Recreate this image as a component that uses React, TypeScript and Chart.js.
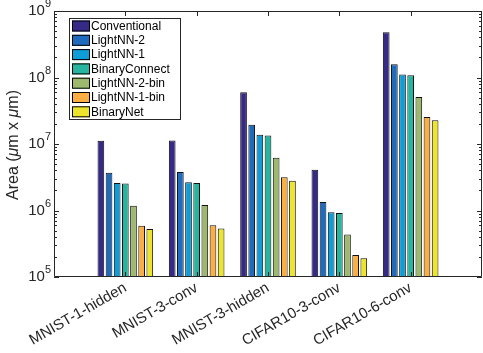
import React, { useEffect, useRef } from "react";
import { Chart, registerables } from "chart.js";

Chart.register(...registerables);

const categories = ["MNIST-1-hidden", "MNIST-3-conv", "MNIST-3-hidden", "CIFAR10-3-conv", "CIFAR10-6-conv"];
const seriesNames = ["Conventional", "LightNN-2", "LightNN-1", "BinaryConnect", "LightNN-2-bin", "LightNN-1-bin", "BinaryNet"];
const conventional = [1.12e7, 1.13e7, 6.0e7, 4.1e6, 4.8e8];
const lightNN2 = [3.7e6, 3.8e6, 1.95e7, 1.34e6, 1.58e8];
const lightNN1 = [2.6e6, 2.65e6, 1.38e7, 9.4e5, 1.11e8];
const binaryConnect = [2.55e6, 2.6e6, 1.34e7, 9.2e5, 1.08e8];
const lightNN2bin = [1.18e6, 1.21e6, 6.2e6, 4.35e5, 5.1e7];
const lightNN1bin = [5.9e5, 6.0e5, 3.15e6, 2.15e5, 2.55e7];
const binaryNet = [5.25e5, 5.35e5, 2.8e6, 1.92e5, 2.27e7];
const yTickExponents = [5, 6, 7, 8, 9];

const seriesValues = [conventional, lightNN2, lightNN1, binaryConnect, lightNN2bin, lightNN1bin, binaryNet];
const colors = ["#352a87", "#1f6cbe", "#0e9dd6", "#26b59e", "#9db96d", "#fbae42", "#ece52c"];

const FONT = "'Liberation Sans', Arial, Helvetica, sans-serif";

const customPlugin = {
  id: "matlabDecor",
  afterDraw(chart: any) {
    const ctx: CanvasRenderingContext2D = chart.ctx;
    const { left, right, top, bottom } = chart.chartArea;
    const y = chart.scales.y;
    const x = chart.scales.x;
    ctx.save();
    // box
    ctx.strokeStyle = "#262626";
    ctx.lineWidth = 1;
    ctx.beginPath();
    ctx.rect(left + 0.5, top + 0.5, right - left - 1, bottom - top - 1);
    ctx.stroke();
    // y ticks major/minor
    ctx.beginPath();
    for (let e = 5; e <= 9; e++) {
      for (let m = 1; m <= 9; m++) {
        const v = m * Math.pow(10, e);
        if (v > 1e9) break;
        const py = Math.round(y.getPixelForValue(v)) + 0.5;
        const len = m === 1 ? 5 : 3;
        ctx.moveTo(left, py);
        ctx.lineTo(left + len, py);
        ctx.moveTo(right, py);
        ctx.lineTo(right - len, py);
      }
    }
    // x ticks
    for (let i = 1; i <= categories.length; i++) {
      const px = Math.round(x.getPixelForValue(i)) + 0.5;
      ctx.moveTo(px, top);
      ctx.lineTo(px, top + 5);
      ctx.moveTo(px, bottom);
      ctx.lineTo(px, bottom - 5);
    }
    ctx.stroke();
    // y tick labels
    ctx.fillStyle = "#262626";
    ctx.textBaseline = "middle";
    for (const e of yTickExponents) {
      const py = y.getPixelForValue(Math.pow(10, e));
      ctx.font = `11px ${FONT}`;
      const ew = ctx.measureText(String(e)).width;
      ctx.textAlign = "right";
      ctx.fillText(String(e), left - 3, py - 7);
      ctx.font = `15px ${FONT}`;
      ctx.fillText("10", left - 3 - ew, py);
    }
    // y title with italic mu
    ctx.save();
    ctx.translate(14, (top + bottom) / 2 + 1);
    ctx.rotate(-Math.PI / 2);
    const parts: [string, string][] = [
      ["Area (", `16px ${FONT}`],
      ["\u03bc", `italic 16px ${FONT}`],
      ["m x ", `16px ${FONT}`],
      ["\u03bc", `italic 16px ${FONT}`],
      ["m)", `16px ${FONT}`],
    ];
    let total = 0;
    for (const [t, f] of parts) {
      ctx.font = f;
      total += ctx.measureText(t).width;
    }
    let cx = -total / 2;
    ctx.textAlign = "left";
    for (const [t, f] of parts) {
      ctx.font = f;
      ctx.fillText(t, cx, 0);
      cx += ctx.measureText(t).width;
    }
    ctx.restore();
    // legend
    const lx = 69, ly = 18, lw = 111, lh = 101;
    ctx.fillStyle = "#ffffff";
    ctx.fillRect(lx, ly, lw, lh);
    ctx.strokeStyle = "#262626";
    ctx.strokeRect(lx + 0.5, ly + 0.5, lw, lh);
    ctx.font = `12px ${FONT}`;
    ctx.textAlign = "left";
    ctx.textBaseline = "middle";
    chart.data.datasets.forEach((ds: any, i: number) => {
      const cy = ly + 8 + i * 14.3;
      ctx.fillStyle = ds.backgroundColor;
      ctx.fillRect(lx + 3, cy - 5.5, 18, 11);
      ctx.strokeStyle = "#000";
      ctx.strokeRect(lx + 3.5, cy - 5, 17, 10);
      ctx.fillStyle = "#000";
      ctx.fillText(ds.label, lx + 22, cy + 0.5);
    });
    ctx.restore();
  },
};

export default function App() {
  const ref = useRef<HTMLCanvasElement>(null);
  useEffect(() => {
    document.body.style.margin = "0";
    document.body.style.overflow = "hidden";
    const chart = new Chart(ref.current!, {
      type: "bar",
      data: {
        datasets: seriesValues.map((vals, i) => ({
          label: seriesNames[i],
          data: vals.map((v, j) => ({ x: j + 1, y: v })),
          backgroundColor: colors[i],
          borderColor: "#111111",
          borderWidth: 1,
          borderSkipped: "bottom",
          categoryPercentage: 0.8,
          barPercentage: 0.82,
        })),
      },
      options: {
        animation: false,
        responsive: false,
        maintainAspectRatio: false,
        layout: { padding: { top: 11, right: 1, left: 0, bottom: 0 } },
        plugins: { legend: { display: false }, tooltip: { enabled: false } },
        scales: {
          x: {
            type: "linear",
            min: 0,
            max: 6,
            offset: false,
            grid: { display: false },
            border: { display: false },
            afterBuildTicks: (scale: any) => {
              scale.ticks = categories.map((_, i) => ({ value: i + 1 }));
            },
            afterFit: (scale: any) => {
              scale.height = 76;
            },
            ticks: {
              autoSkip: false,
              minRotation: 30,
              maxRotation: 30,
              padding: -6,
              labelOffset: 0,
              color: "#262626",
              font: { family: FONT, size: 15 },
              callback: (v: any) => categories[Number(v) - 1] ?? "",
            },
          },
          y: {
            type: "logarithmic",
            min: 1e5,
            max: 1e9,
            grid: { display: false },
            border: { display: false },
            ticks: { display: false },
            afterFit: (scale: any) => {
              scale.width = 54;
            },
          },
        },
      },
      plugins: [customPlugin],
    } as any);
    return () => chart.destroy();
  }, []);
  return (
    <div style={{ width: 483, height: 353, background: "#fff" }}>
      <canvas ref={ref} width={483} height={353} style={{ width: 483, height: 353, display: "block" }} />
    </div>
  );
}
